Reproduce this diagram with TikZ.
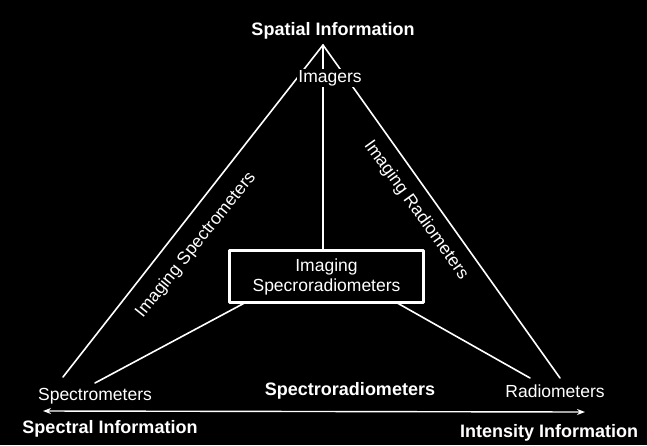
\documentclass[tikz,border=0pt]{standalone}
\usepackage{fontspec}
\setmainfont{Liberation Sans}
\usetikzlibrary{arrows.meta}

\begin{document}
\begin{tikzpicture}[x=1pt,y=-1pt,line cap=round,line join=round,
    every node/.style={text=white,font=\fontsize{17.5}{20}\selectfont},
    lbl/.style={anchor=base},
    head/.style={anchor=base,font=\fontsize{18}{20}\selectfont\bfseries},
    edge/.style={draw=white,line width=1.6pt}]
    \fill[black] (0,0) rectangle (647,445);
    % corners of the triangle
    \coordinate (apex) at (323,45);
    \coordinate (lcorner) at (63,377);
    \coordinate (rcorner) at (560,378);
    \coordinate (hub) at (323,261);
    \coordinate (lfoot) at (95,383);
    \coordinate (rfoot) at (530,378);
    \coordinate (sleft) at (43,411);
    \coordinate (sright) at (585,412);
    \draw[edge] (lcorner) -- (apex) -- (rcorner);
    \draw[edge] (apex) -- (hub);
    \draw[edge] (lfoot) -- (hub) -- (rfoot);
    \draw[white,line width=1.4pt,{Stealth[length=8pt,width=6pt]}-{Stealth[length=8pt,width=6pt]}] (sleft) -- (sright);
    % labels
    \node[head] (spatial) at (333,35) {Spatial Information};
    \node[lbl,fill=black,inner sep=1pt] (imagers) at (330,82) {Imagers};
    \node[draw=white,line width=3pt,fill=black,minimum width=194pt,minimum height=52pt,
        align=center,inner sep=0pt] (imgspecrad) at (326.5,276.5) {Imaging\\Specroradiometers};
    \node[rotate=51.3] (imgspec) at (196,245) {Imaging Spectrometers};
    \node[rotate=-54.3] (imgrad) at (416,210) {Imaging Radiometers};
    \node[lbl] (spectro) at (95,400) {Spectrometers};
    \node[lbl] (radio) at (555,397) {Radiometers};
    \node[head] (specrad) at (350,395) {Spectroradiometers};
    \node[head] (spectral) at (110,433) {Spectral Information};
    \node[head] (intensity) at (549,437) {Intensity Information};
\end{tikzpicture}
\end{document}
